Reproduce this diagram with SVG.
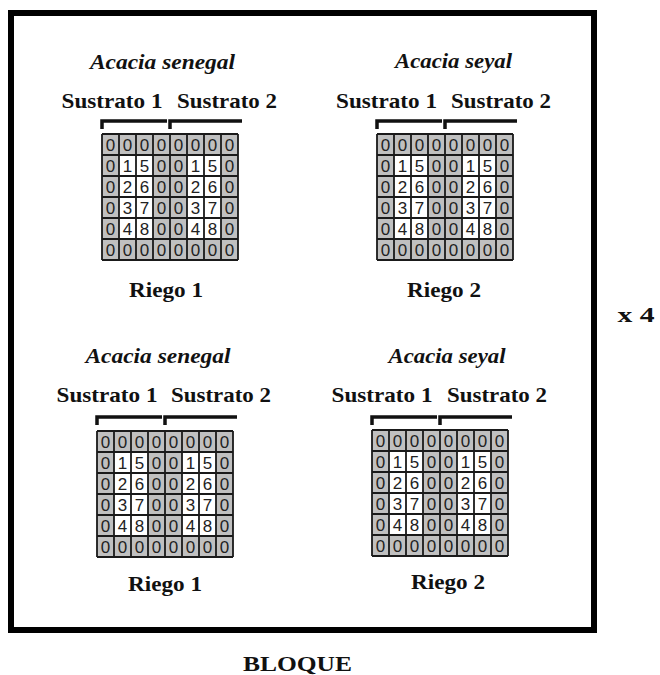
<svg xmlns="http://www.w3.org/2000/svg" xmlns:xlink="http://www.w3.org/1999/xlink" width="660" height="675" viewBox="0 0 660 675">
  <style>
    .sp { font-family: "Liberation Serif", "Times New Roman", serif; font-weight: bold; font-style: italic; font-size: 22px; fill: #111; text-anchor: middle; }
    .lb { font-family: "Liberation Serif", "Times New Roman", serif; font-weight: bold; font-size: 22px; fill: #111; text-anchor: middle; }
    .dg { font-family: "Liberation Sans", Arial, sans-serif; font-size: 17px; fill: #222; text-anchor: middle; }
    .br { fill: none; stroke: #111; stroke-width: 3.5; stroke-linejoin: miter; }
    .gl { stroke: #1a1a1a; stroke-width: 1.8; fill: none; }
  </style>
  <defs>
    <!-- 8 x 6 plot grid: grey border cells, white planted cells -->
    <g id="grid">
      <rect x="0" y="0" width="136" height="126" fill="#c0c0c0"/>
      <rect x="17" y="21" width="34" height="84" fill="#ffffff"/>
      <rect x="85" y="21" width="34" height="84" fill="#ffffff"/>
      <path class="gl" d="M0 0V126M17 0V126M34 0V126M51 0V126M68 0V126M85 0V126M102 0V126M119 0V126M136 0V126M0 0H136M0 21H136M0 42H136M0 63H136M0 84H136M0 105H136M0 126H136"/>
      <g class="dg">
        <text x="8.5" y="16.8">0</text><text x="25.5" y="16.8">0</text><text x="42.5" y="16.8">0</text><text x="59.5" y="16.8">0</text><text x="76.5" y="16.8">0</text><text x="93.5" y="16.8">0</text><text x="110.5" y="16.8">0</text><text x="127.5" y="16.8">0</text>
        <text x="8.5" y="37.8">0</text><text x="25.5" y="37.8">1</text><text x="42.5" y="37.8">5</text><text x="59.5" y="37.8">0</text><text x="76.5" y="37.8">0</text><text x="93.5" y="37.8">1</text><text x="110.5" y="37.8">5</text><text x="127.5" y="37.8">0</text>
        <text x="8.5" y="58.8">0</text><text x="25.5" y="58.8">2</text><text x="42.5" y="58.8">6</text><text x="59.5" y="58.8">0</text><text x="76.5" y="58.8">0</text><text x="93.5" y="58.8">2</text><text x="110.5" y="58.8">6</text><text x="127.5" y="58.8">0</text>
        <text x="8.5" y="79.8">0</text><text x="25.5" y="79.8">3</text><text x="42.5" y="79.8">7</text><text x="59.5" y="79.8">0</text><text x="76.5" y="79.8">0</text><text x="93.5" y="79.8">3</text><text x="110.5" y="79.8">7</text><text x="127.5" y="79.8">0</text>
        <text x="8.5" y="100.8">0</text><text x="25.5" y="100.8">4</text><text x="42.5" y="100.8">8</text><text x="59.5" y="100.8">0</text><text x="76.5" y="100.8">0</text><text x="93.5" y="100.8">4</text><text x="110.5" y="100.8">8</text><text x="127.5" y="100.8">0</text>
        <text x="8.5" y="121.8">0</text><text x="25.5" y="121.8">0</text><text x="42.5" y="121.8">0</text><text x="59.5" y="121.8">0</text><text x="76.5" y="121.8">0</text><text x="93.5" y="121.8">0</text><text x="110.5" y="121.8">0</text><text x="127.5" y="121.8">0</text>
      </g>
    </g>
    <!-- substrate brackets above a grid -->
    <path id="brackets" class="br" d="M0 8V0H65M68 8V0H140"/>
  </defs>

  <!-- block frame -->
  <rect id="bloque-frame" x="11" y="13" width="583" height="617" fill="none" stroke="#000" stroke-width="6"/>

  <g id="connectors"/>

  <g id="panel-senegal-riego1-top">
    <text class="sp" x="162.5" y="69" textLength="145" lengthAdjust="spacingAndGlyphs">Acacia senegal</text>
    <text class="lb" x="112" y="108" textLength="101" lengthAdjust="spacingAndGlyphs">Sustrato 1</text>
    <text class="lb" x="227" y="108" textLength="100" lengthAdjust="spacingAndGlyphs">Sustrato 2</text>
    <use xlink:href="#brackets" x="102" y="121"/>
    <use xlink:href="#grid" x="102" y="134"/>
    <text class="lb" x="166" y="297" textLength="74" lengthAdjust="spacingAndGlyphs">Riego 1</text>
  </g>

  <g id="panel-seyal-riego2-top">
    <text class="sp" x="453.5" y="68" textLength="117" lengthAdjust="spacingAndGlyphs">Acacia seyal</text>
    <text class="lb" x="386.5" y="108" textLength="101" lengthAdjust="spacingAndGlyphs">Sustrato 1</text>
    <text class="lb" x="501" y="108" textLength="100" lengthAdjust="spacingAndGlyphs">Sustrato 2</text>
    <use xlink:href="#brackets" x="377" y="121"/>
    <use xlink:href="#grid" x="377" y="134"/>
    <text class="lb" x="444" y="297" textLength="74" lengthAdjust="spacingAndGlyphs">Riego 2</text>
  </g>

  <g id="panel-senegal-riego1-bottom">
    <text class="sp" x="158" y="363" textLength="145" lengthAdjust="spacingAndGlyphs">Acacia senegal</text>
    <text class="lb" x="107" y="402" textLength="101" lengthAdjust="spacingAndGlyphs">Sustrato 1</text>
    <text class="lb" x="221" y="402" textLength="100" lengthAdjust="spacingAndGlyphs">Sustrato 2</text>
    <use xlink:href="#brackets" x="97" y="417"/>
    <use xlink:href="#grid" x="97" y="431"/>
    <text class="lb" x="165" y="591" textLength="74" lengthAdjust="spacingAndGlyphs">Riego 1</text>
  </g>

  <g id="panel-seyal-riego2-bottom">
    <text class="sp" x="447" y="363" textLength="117" lengthAdjust="spacingAndGlyphs">Acacia seyal</text>
    <text class="lb" x="382" y="402" textLength="101" lengthAdjust="spacingAndGlyphs">Sustrato 1</text>
    <text class="lb" x="497" y="402" textLength="100" lengthAdjust="spacingAndGlyphs">Sustrato 2</text>
    <use xlink:href="#brackets" x="372" y="417"/>
    <use xlink:href="#grid" x="372" y="430"/>
    <text class="lb" x="448" y="589" textLength="74" lengthAdjust="spacingAndGlyphs">Riego 2</text>
  </g>

  <g id="repeat-label">
    <text class="lb" x="636" y="322" font-size="24" textLength="37" lengthAdjust="spacingAndGlyphs">x 4</text>
  </g>

  <g id="block-label">
    <text class="lb" x="297.5" y="671" font-size="25" textLength="109" lengthAdjust="spacingAndGlyphs">BLOQUE</text>
  </g>
</svg>
